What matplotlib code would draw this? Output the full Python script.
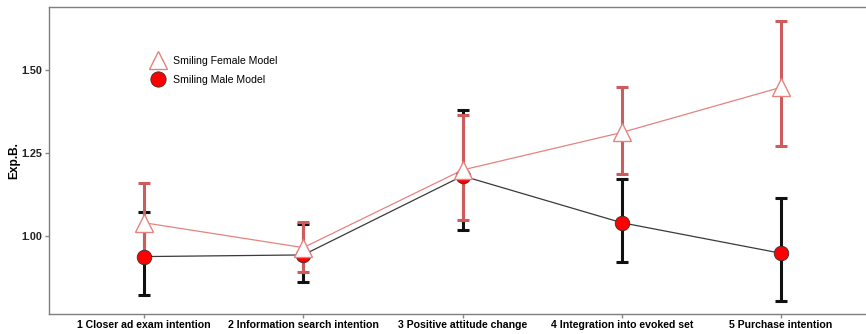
import matplotlib
matplotlib.use("Agg")
import matplotlib.pyplot as plt
from matplotlib.lines import Line2D

plt.rcParams['font.family'] = ['Liberation Sans', 'DejaVu Sans']

categories = ["1 Closer ad exam intention", "2 Information search intention",
              "3 Positive attitude change", "4 Integration into evoked set",
              "5 Purchase intention"]

female_val = [1.040, 0.965, 1.199, 1.312, 1.448]
female_lo = [0.932, 0.893, 1.048, 1.187, 1.271]
female_hi = [1.160, 1.041, 1.364, 1.448, 1.648]

male_val = [0.938, 0.943, 1.181, 1.040, 0.948]
male_lo = [0.822, 0.862, 1.018, 0.921, 0.804]
male_hi = [1.071, 1.035, 1.380, 1.171, 1.115]

yticks = [1.00, 1.25, 1.50]
ytick_labels = ["1.00", "1.25", "1.50"]

W, H = 866, 334
fig = plt.figure(figsize=(W / 100, H / 100), dpi=100)
ax = fig.add_axes([48.5 / W, 1 - 314 / H, (876.6 - 48.5) / W, (314 - 7) / H])

x = list(range(1, len(categories) + 1))

red_bar = "#cd5c5c"
red_line = "#e5837f"
black = "#111111"

def err(v, lo, hi):
    return [[a - b for a, b in zip(v, lo)], [c - a for a, c in zip(v, hi)]]

# male error bars underneath, female bars over them
ax.errorbar(x, male_val, yerr=err(male_val, male_lo, male_hi), fmt='none',
            ecolor=black, elinewidth=2.2, capsize=4.6, capthick=2.2, zorder=2)
ax.errorbar(x, female_val, yerr=err(female_val, female_lo, female_hi), fmt='none',
            ecolor=red_bar, elinewidth=2.2, capsize=4.6, capthick=2.2, zorder=3)

ax.plot(x, male_val, color="#3a3a3a", lw=0.9, zorder=4)
ax.plot(x, female_val, color=red_line, lw=0.9, zorder=4)

ax.plot(x, male_val, 'o', ms=10.5, mfc="#ff0000", mec="#333333", mew=0.6, zorder=5)
ax.plot(x, female_val, '^', ms=13.5, mfc="white", mec=red_line, mew=1.0, zorder=6)

ax.set_xlim(0.4, 5.6)
ax.set_ylim(0.765, 1.690)
ax.set_xticks(x)
ax.set_xticklabels(categories, fontsize=7.6, fontweight='bold', color="black")
ax.set_yticks(yticks)
ax.set_yticklabels(ytick_labels, fontsize=7.8, fontweight='bold', color="#222222")
ax.tick_params(axis='both', length=3, color="#888888", width=1.0, pad=1.5)
ax.set_ylabel("Exp.B.", fontsize=8.6, fontweight='bold', labelpad=0.5)

for side in ax.spines.values():
    side.set_color("#7f7f7f")
    side.set_linewidth(1.0)

handles = [
    Line2D([], [], marker='^', ls='-', color=red_line, lw=0.8, ms=13,
           mfc='white', mec=red_line, mew=1.0),
    Line2D([], [], marker='o', ls='-', color="#333333", lw=0.8, ms=11,
           mfc='#ff0000', mec='#333333', mew=0.6),
]
ax.legend(handles, ["Smiling Female Model", "Smiling Male Model"],
          loc='upper left', bbox_to_anchor=(104 / (876.6 - 48.5), 1 - 49 / 307),
          frameon=False, fontsize=7.6, handlelength=1.0, handletextpad=0.9,
          labelspacing=0.85, borderpad=0, borderaxespad=0)

fig.savefig("out.png", dpi=100)
